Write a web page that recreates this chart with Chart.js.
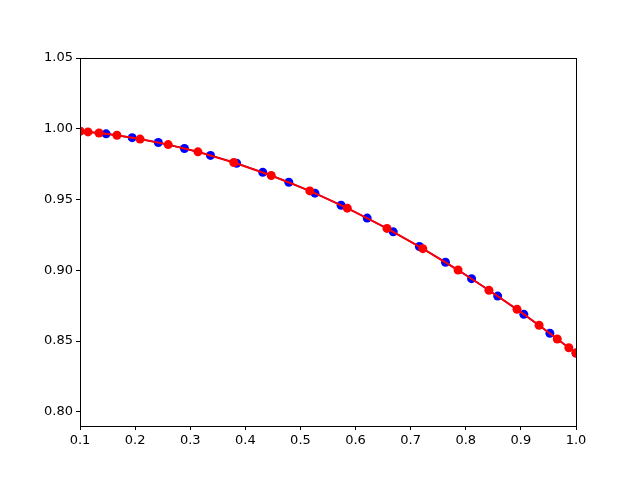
<!DOCTYPE html>
<html lang="en">
<head>
    <meta charset="UTF-8">
    <title>Curve samples</title>
    <script src="https://cdn.jsdelivr.net/npm/chart.js"></script>
    <style>
        body { margin: 0; background: #ffffff; }
        #wrap { width: 640px; height: 480px; }
    </style>
</head>
<body>
<div id="wrap"><canvas id="chart" width="640" height="480"></canvas></div>
<script>
    // evenly spaced samples (blue)
    const blueX = [0.1000, 0.1474, 0.1947, 0.2421, 0.2895, 0.3368, 0.3842, 0.4316, 0.4789, 0.5263,
                   0.5737, 0.6211, 0.6684, 0.7158, 0.7632, 0.8105, 0.8579, 0.9053, 0.9526, 1.0000];
    const blueY = [0.9983, 0.9964, 0.9937, 0.9903, 0.9861, 0.9812, 0.9756, 0.9692, 0.9622, 0.9545,
                   0.9460, 0.9369, 0.9272, 0.9168, 0.9057, 0.8941, 0.8818, 0.8689, 0.8555, 0.8415];
    // clustered samples (red)
    const redX = [0.100, 0.1145, 0.1345, 0.167, 0.209, 0.260, 0.314, 0.379, 0.447, 0.517,
                  0.585, 0.657, 0.722, 0.786, 0.842, 0.893, 0.933, 0.966, 0.987, 1.000];
    const redY = [0.9983, 0.9978, 0.9970, 0.9954, 0.9927, 0.9888, 0.9837, 0.9762, 0.9670, 0.9561,
                  0.9439, 0.9296, 0.9153, 0.9002, 0.8859, 0.8724, 0.8612, 0.8515, 0.8453, 0.8415];

    const xTicks = [0.1, 0.2, 0.3, 0.4, 0.5, 0.6, 0.7, 0.8, 0.9, 1.0];
    const yTicks = [0.80, 0.85, 0.90, 0.95, 1.00, 1.05];

    const pts = (xs, ys) => xs.map((x, i) => ({x: x, y: ys[i]}));

    // draws the full box around the plot, like matplotlib spines
    const frame = {
        id: 'frame',
        afterDraw(chart) {
            const a = chart.chartArea, c = chart.ctx;
            c.save();
            c.strokeStyle = '#000';
            c.lineWidth = 1;
            c.strokeRect(a.left + 0.5, a.top + 0.5, a.right - a.left, a.bottom - a.top);
            c.restore();
        }
    };

    Chart.defaults.font.family = 'DejaVu Sans';
    Chart.defaults.font.size = 13;
    Chart.defaults.color = '#000';

    new Chart(document.getElementById('chart'), {
        type: 'scatter',
        data: {
            datasets: [
                {
                    data: pts(blueX, blueY), showLine: true, order: 2,
                    borderColor: '#0000ff', backgroundColor: '#0000ff',
                    borderWidth: 1.5, pointRadius: 4.5, pointBorderWidth: 0
                },
                {
                    data: pts(redX, redY), showLine: true, order: 1,
                    borderColor: '#ff0000', backgroundColor: '#ff0000',
                    borderWidth: 2, pointRadius: 4.5, pointBorderWidth: 0
                }
            ]
        },
        options: {
            responsive: false,
            animation: false,
            layout: {padding: {top: 58, right: 64, left: 0, bottom: 0}},
            plugins: {legend: {display: false}, tooltip: {enabled: false}},
            scales: {
                x: {
                    min: 0.1, max: 1.0,
                    afterFit: s => { s.height = 54; },
                    afterBuildTicks: s => { s.ticks = xTicks.map(v => ({value: v})); },
                    ticks: {callback: v => v.toFixed(1), maxRotation: 0, padding: 3},
                    grid: {drawOnChartArea: false, tickLength: 4, color: '#000'},
                    border: {color: '#000'}
                },
                y: {
                    min: 0.79, max: 1.05,
                    afterFit: s => { s.width = 80; },
                    afterBuildTicks: s => { s.ticks = yTicks.map(v => ({value: v})); },
                    ticks: {callback: v => v.toFixed(2), padding: 3},
                    grid: {drawOnChartArea: false, tickLength: 4, color: '#000'},
                    border: {color: '#000'}
                }
            }
        },
        plugins: [frame]
    });
</script>
</body>
</html>
